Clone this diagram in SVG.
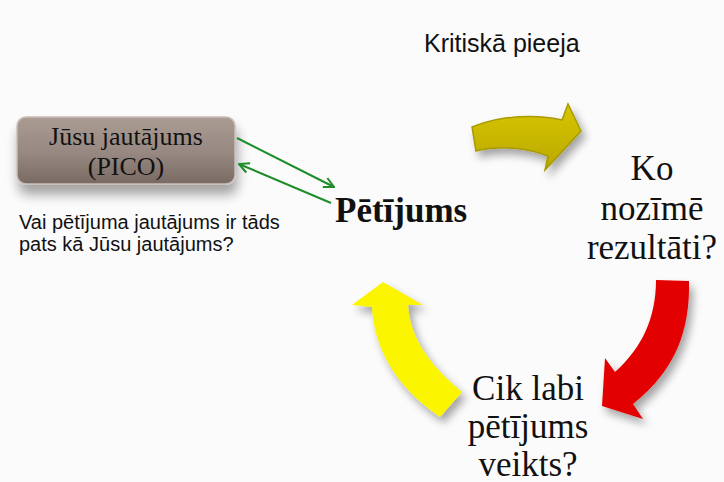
<svg xmlns="http://www.w3.org/2000/svg" width="724" height="482" viewBox="0 0 724 482">
  <style>
    .serif { font-family: "Liberation Serif", "Times New Roman", serif; fill: #111; }
    .sans { font-family: "Liberation Sans", Arial, sans-serif; fill: #111; }
    .big { font-size: 35px; text-anchor: middle; }
    .conn { stroke: #1e8c28; stroke-width: 2; fill: none; }
  </style>
  <defs>
    <linearGradient id="boxGrad" x1="0" y1="0" x2="0" y2="1">
      <stop offset="0" stop-color="#aa9c93"/>
      <stop offset="0.55" stop-color="#968880"/>
      <stop offset="1" stop-color="#786a63"/>
    </linearGradient>
    <linearGradient id="oliveGrad" x1="0" y1="0" x2="0" y2="1">
      <stop offset="0" stop-color="#d8c600"/>
      <stop offset="1" stop-color="#b9a800"/>
    </linearGradient>
    <filter id="shadow" x="-30%" y="-30%" width="160%" height="170%">
      <feGaussianBlur in="SourceAlpha" stdDeviation="4"/>
      <feOffset dx="4" dy="6" result="b"/>
      <feComponentTransfer><feFuncA type="linear" slope="0.35"/></feComponentTransfer>
      <feMerge><feMergeNode/><feMergeNode in="SourceGraphic"/></feMerge>
    </filter>
    <filter id="boxShadow" x="-20%" y="-30%" width="140%" height="190%">
      <feGaussianBlur in="SourceAlpha" stdDeviation="6"/>
      <feOffset dx="2" dy="10" result="b"/>
      <feComponentTransfer><feFuncA type="linear" slope="0.35"/></feComponentTransfer>
      <feMerge><feMergeNode/><feMergeNode in="SourceGraphic"/></feMerge>
    </filter>
    <marker id="head" viewBox="0 0 12 12" refX="11" refY="6" markerWidth="12" markerHeight="12" markerUnits="userSpaceOnUse" orient="auto">
      <path d="M1,1 L11,6 L1,11" fill="none" stroke="#1e8c28" stroke-width="2"/>
    </marker>
  </defs>

  <rect width="724" height="482" fill="#fbfbfb"/>

  <text class="sans" x="424" y="52" font-size="25">Kritiskā pieeja</text>

  <g id="pico">
    <rect x="17" y="117" width="218" height="67" rx="9" fill="url(#boxGrad)" stroke="#c9bfb8" stroke-width="1.5" filter="url(#boxShadow)"/>
    <text class="serif" x="126" y="145" font-size="26" text-anchor="middle">Jūsu jautājums</text>
    <text class="serif" x="126" y="175" font-size="26" text-anchor="middle">(PICO)</text>
  </g>

  <g id="question">
    <text class="sans" x="19" y="229" font-size="20">Vai pētījuma jautājums ir tāds</text>
    <text class="sans" x="19" y="251" font-size="20">pats kā Jūsu jautājums?</text>
  </g>

  <g id="petijums">
    <text class="serif" x="335" y="222" font-size="35" font-weight="bold">Pētījums</text>
  </g>

  <g id="nozime">
    <text class="serif big" x="652" y="180">Ko</text>
    <text class="serif big" x="652" y="220">nozīmē</text>
    <text class="serif big" x="652" y="259">rezultāti?</text>
  </g>

  <g id="veikts">
    <text class="serif big" x="528" y="400" font-size="36">Cik labi</text>
    <text class="serif big" x="528" y="438">pētījums</text>
    <text class="serif big" x="528" y="476">veikts?</text>
  </g>

  <g id="connectors">
    <line class="conn" x1="237" y1="138" x2="334" y2="187" marker-end="url(#head)"/>
    <line class="conn" x1="331" y1="203" x2="239" y2="164" marker-end="url(#head)"/>
    <path id="olive-arrow" d="M472,127 C500,115 538,114 562,120 L568,104 L581,131 L545,170 L548,156 C528,148 500,145 476,151 Z" fill="url(#oliveGrad)" stroke="#a99a00" stroke-width="1.5" filter="url(#shadow)"/>
    <path id="red-arrow" d="M656,280 L689,281 C690,330 676,370 633,404 L643,419 L602,406 L605,358 L615,372 C642,348 656,318 656,280 Z" fill="#e30000" filter="url(#shadow)"/>
    <path id="yellow-arrow" d="M440,417 L462,392 C432,367 410,340 408,305 L423,305 L383,282 L352,305 L372,307 C374,352 400,390 440,417 Z" fill="#fbf500" filter="url(#shadow)"/>
  </g>
</svg>
